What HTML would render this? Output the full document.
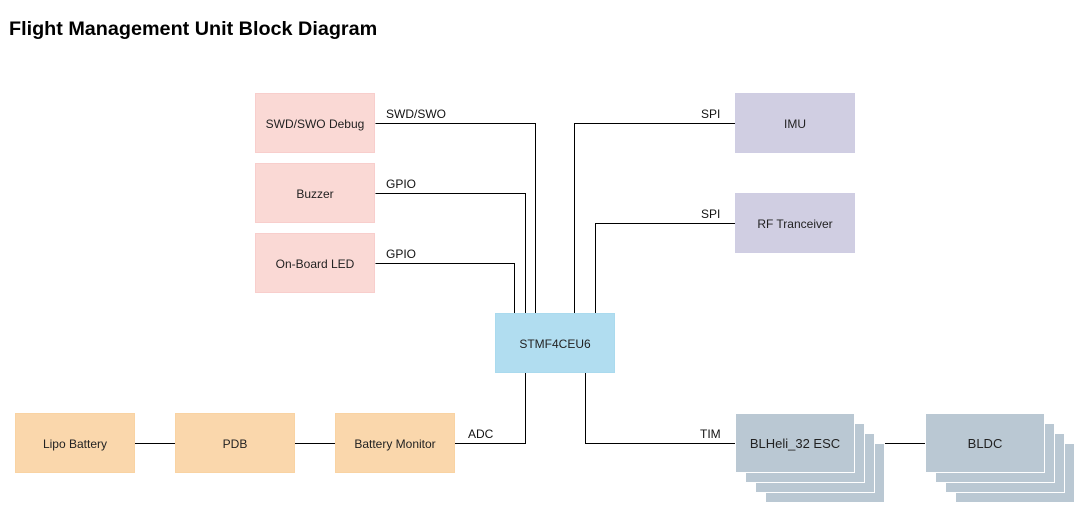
<!DOCTYPE html>
<html><head><style>
body{margin:0;width:1081px;height:524px;background:#fff;font-family:"Liberation Sans",sans-serif;position:relative;overflow:hidden}
.t{position:absolute;left:9px;top:18px;font-size:19.8px;font-weight:bold;color:#000}
.b{position:absolute;width:118px;height:58px;border:1px solid;display:flex;align-items:center;justify-content:center;font-size:12px;color:#222;box-sizing:content-box;padding-top:1px;height:57px}
.p{background:#fad9d5;border-color:#f8cecc}
.v{background:#d0cee2;border-color:#cfcde3}
.s{background:#b1ddf0;border-color:#aadaee}
.o{background:#fad7ac;border-color:#f9d3a3}
.g{background:#bac8d3;border-color:#fff;font-size:13px}
.l{position:absolute;font-size:12px;color:#111}
</style></head><body>
<div class="t">Flight Management Unit Block Diagram</div>
<svg width="1081" height="524" style="position:absolute;left:0;top:0" fill="none" stroke="#000" stroke-width="1">
<path d="M375.5 123.5H535.5V313"/>
<path d="M375.5 193.5H525.5V313"/>
<path d="M375.5 263.5H514.5V313"/>
<path d="M735 123.5H574.5V313"/>
<path d="M735 223.5H595.5V313"/>
<path d="M455 443.5H525.5V373"/>
<path d="M585.5 373V443.5H735"/>
<path d="M135 443.5H175M295 443.5H335M855 443.5H926"/>
</svg>
<div class="b p" style="left:255px;top:93px">SWD/SWO Debug</div>
<div class="b p" style="left:255px;top:163px">Buzzer</div>
<div class="b p" style="left:255px;top:233px">On-Board LED</div>
<div class="b v" style="left:735px;top:93px">IMU</div>
<div class="b v" style="left:735px;top:193px">RF Tranceiver</div>
<div class="b s" style="left:495px;top:313px">STMF4CEU6</div>
<div class="b o" style="left:15px;top:413px">Lipo Battery</div>
<div class="b o" style="left:175px;top:413px">PDB</div>
<div class="b o" style="left:335px;top:413px">Battery Monitor</div>
<div class="b g" style="left:765px;top:443px"></div>
<div class="b g" style="left:755px;top:433px"></div>
<div class="b g" style="left:745px;top:423px"></div>
<div class="b g" style="left:735px;top:413px">BLHeli_32 ESC</div>
<div class="b g" style="left:955px;top:443px"></div>
<div class="b g" style="left:945px;top:433px"></div>
<div class="b g" style="left:935px;top:423px"></div>
<div class="b g" style="left:925px;top:413px">BLDC</div>
<div class="l" style="left:386px;top:107px">SWD/SWO</div>
<div class="l" style="left:386px;top:177px">GPIO</div>
<div class="l" style="left:386px;top:247px">GPIO</div>
<div class="l" style="left:701px;top:107px">SPI</div>
<div class="l" style="left:701px;top:207px">SPI</div>
<div class="l" style="left:468px;top:427px">ADC</div>
<div class="l" style="left:700px;top:427px">TIM</div>
</body></html>
